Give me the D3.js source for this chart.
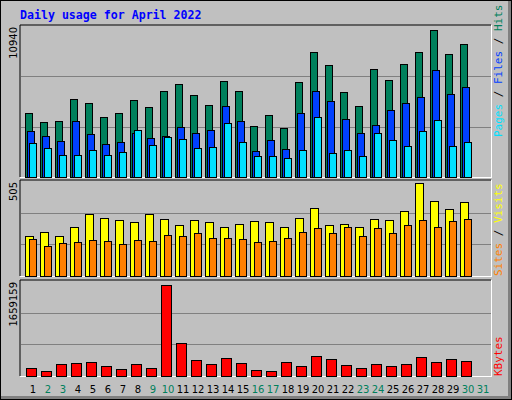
<!DOCTYPE html>
<html>
<head>
<meta charset="UTF-8">
<script src="https://d3js.org/d3.v7.min.js"></script>
<style>body{margin:0;padding:0;background:#fff}</style>
</head>
<body>
<div id="chart"></div>
<script>
// daily values for April 2022 (30 days, webalizer draws 31 slots)
const days = d3.range(1, 32);
const weekend = [2, 3, 9, 10, 16, 17, 23, 24, 30, 31];
const hits  = [4661,4009,4081,5675,5385,4371,4661,5603,5096,6255,6762,5965,5241,6979,6255,3719,4516,3574,6907,9080,8139,6182,5168,7849,7052,8211,9080,10674,8936,9660];
const files = [3357,2995,2632,4081,3140,2415,2560,3212,2850,2995,3647,3212,3429,5168,4081,1908,2705,2053,4661,6255,5530,4226,3212,3792,4878,5385,5820,7776,6038,6545];
const pages = [2487,2125,1618,1618,1980,1618,1835,3429,2343,2922,2777,2125,2198,3936,2560,1546,1546,1401,1980,4371,1763,1980,1546,3212,2705,2270,3357,4154,2270,2560];
const sites  = [210,236,210,263,328,306,296,285,328,301,269,296,285,263,274,290,285,258,306,360,269,274,263,301,296,344,494,398,355,392];
const visits = [199,161,177,183,193,188,172,193,188,220,215,231,204,204,199,183,188,204,236,253,226,258,215,253,226,269,296,258,290,301];
const kbytes = [144525,92496,213897,231240,248583,179211,127182,213897,144525,1589775,578100,283269,213897,317955,231240,109839,92496,248583,179211,352641,300612,196554,144525,213897,179211,213897,335298,248583,300612,265926];
const maxHits = 10940, maxSites = 505, maxKb = 1659159;

const svg = d3.select("#chart").append("svg")
  .attr("width", 512).attr("height", 400);

// background + bevel
svg.append("rect").attr("width", 512).attr("height", 400).attr("fill", "#000");
svg.append("rect").attr("x", 1).attr("y", 1).attr("width", 510).attr("height", 398).attr("fill", "#808080");
svg.append("rect").attr("x", 1).attr("y", 1).attr("width", 507).attr("height", 395).attr("fill", "#c0c0c0");

svg.append("text").attr("x", 20).attr("y", 19)
  .attr("font-family", "DejaVu Sans Mono").attr("font-weight", "bold")
  .attr("font-size", "11.6px").attr("fill", "#0000ff")
  .text("Daily usage for April 2022");

const x = d3.scaleBand().domain(days).range([25, 490]);

function panel(top, bottom, max, label) {
  const g = svg.append("g");
  g.append("line").attr("x1", 20).attr("x2", 491).attr("y1", top).attr("y2", top).attr("stroke", "#000");
  g.append("line").attr("x1", 20).attr("x2", 20).attr("y1", top).attr("y2", bottom).attr("stroke", "#000");
  g.append("line").attr("x1", 20).attr("x2", 491).attr("y1", bottom + 0.5).attr("y2", bottom + 0.5).attr("stroke", "#fff");
  g.append("line").attr("x1", 491.5).attr("x2", 491.5).attr("y1", top).attr("y2", bottom + 1).attr("stroke", "#fff");
  const y = d3.scaleLinear().domain([0, max]).range([bottom, top + 1]);
  [max / 3, max * 2 / 3].forEach(v => {
    g.append("line").attr("x1", 21).attr("x2", 491).attr("y1", Math.round(y(v)) + 0.5).attr("y2", Math.round(y(v)) + 0.5)
      .attr("stroke", "#808080");
  });
  g.append("text").attr("transform", `translate(17,${top + 2}) rotate(-90)`)
    .attr("text-anchor", "end").attr("font-family", "DejaVu Sans").attr("font-size", "10px")
    .text(label);
  return {g, y};
}

function bars(p, data, dx, w, color) {
  p.g.selectAll(null).data(data).join("rect")
    .attr("x", (d, i) => x(i + 1) + dx + 0.5)
    .attr("y", d => Math.round(p.y(d)) + 0.5)
    .attr("width", w)
    .attr("height", d => p.y(0) - Math.round(p.y(d)))
    .attr("fill", color).attr("stroke", "#000");
}

function sideLabel(parts, yEnd) {
  const t = svg.append("text").attr("transform", `translate(502,${yEnd}) rotate(-90)`)
    .attr("font-family", "DejaVu Sans Mono").attr("font-size", "11px");
  parts.forEach(([s, c]) => t.append("tspan").attr("fill", c).text(s));
}

const p1 = panel(25, 177, maxHits, String(maxHits));
bars(p1, hits, 0, 7, "#00805c");
bars(p1, files, 2, 7, "#0040ff");
bars(p1, pages, 4, 7, "#00e0ff");
sideLabel([["Pages", "#00e0ff"], [" / ", "#000"], ["Files", "#0040ff"], [" / ", "#000"], ["Hits", "#00805c"]], 137);

const p2 = panel(180, 276, maxSites, String(maxSites));
bars(p2, sites, 0, 8, "#ffff00");
bars(p2, visits, 4, 7, "#ff8000");
sideLabel([["Sites", "#ff8000"], [" / ", "#000"], ["Visits", "#ffff00"]], 276);

const p3 = panel(280, 376, maxKb, String(maxKb));
bars(p3, kbytes, 1, 10, "#ff0000");
sideLabel([["KBytes", "#ff0000"]], 376);

svg.selectAll(null).data(days).join("text")
  .attr("x", d => x(d) + 8).attr("y", 393)
  .attr("text-anchor", "middle").attr("font-family", "DejaVu Sans").attr("font-size", "10px")
  .attr("fill", d => weekend.includes(d) ? "#00805c" : "#000")
  .text(d => d);
</script>
</body>
</html>
